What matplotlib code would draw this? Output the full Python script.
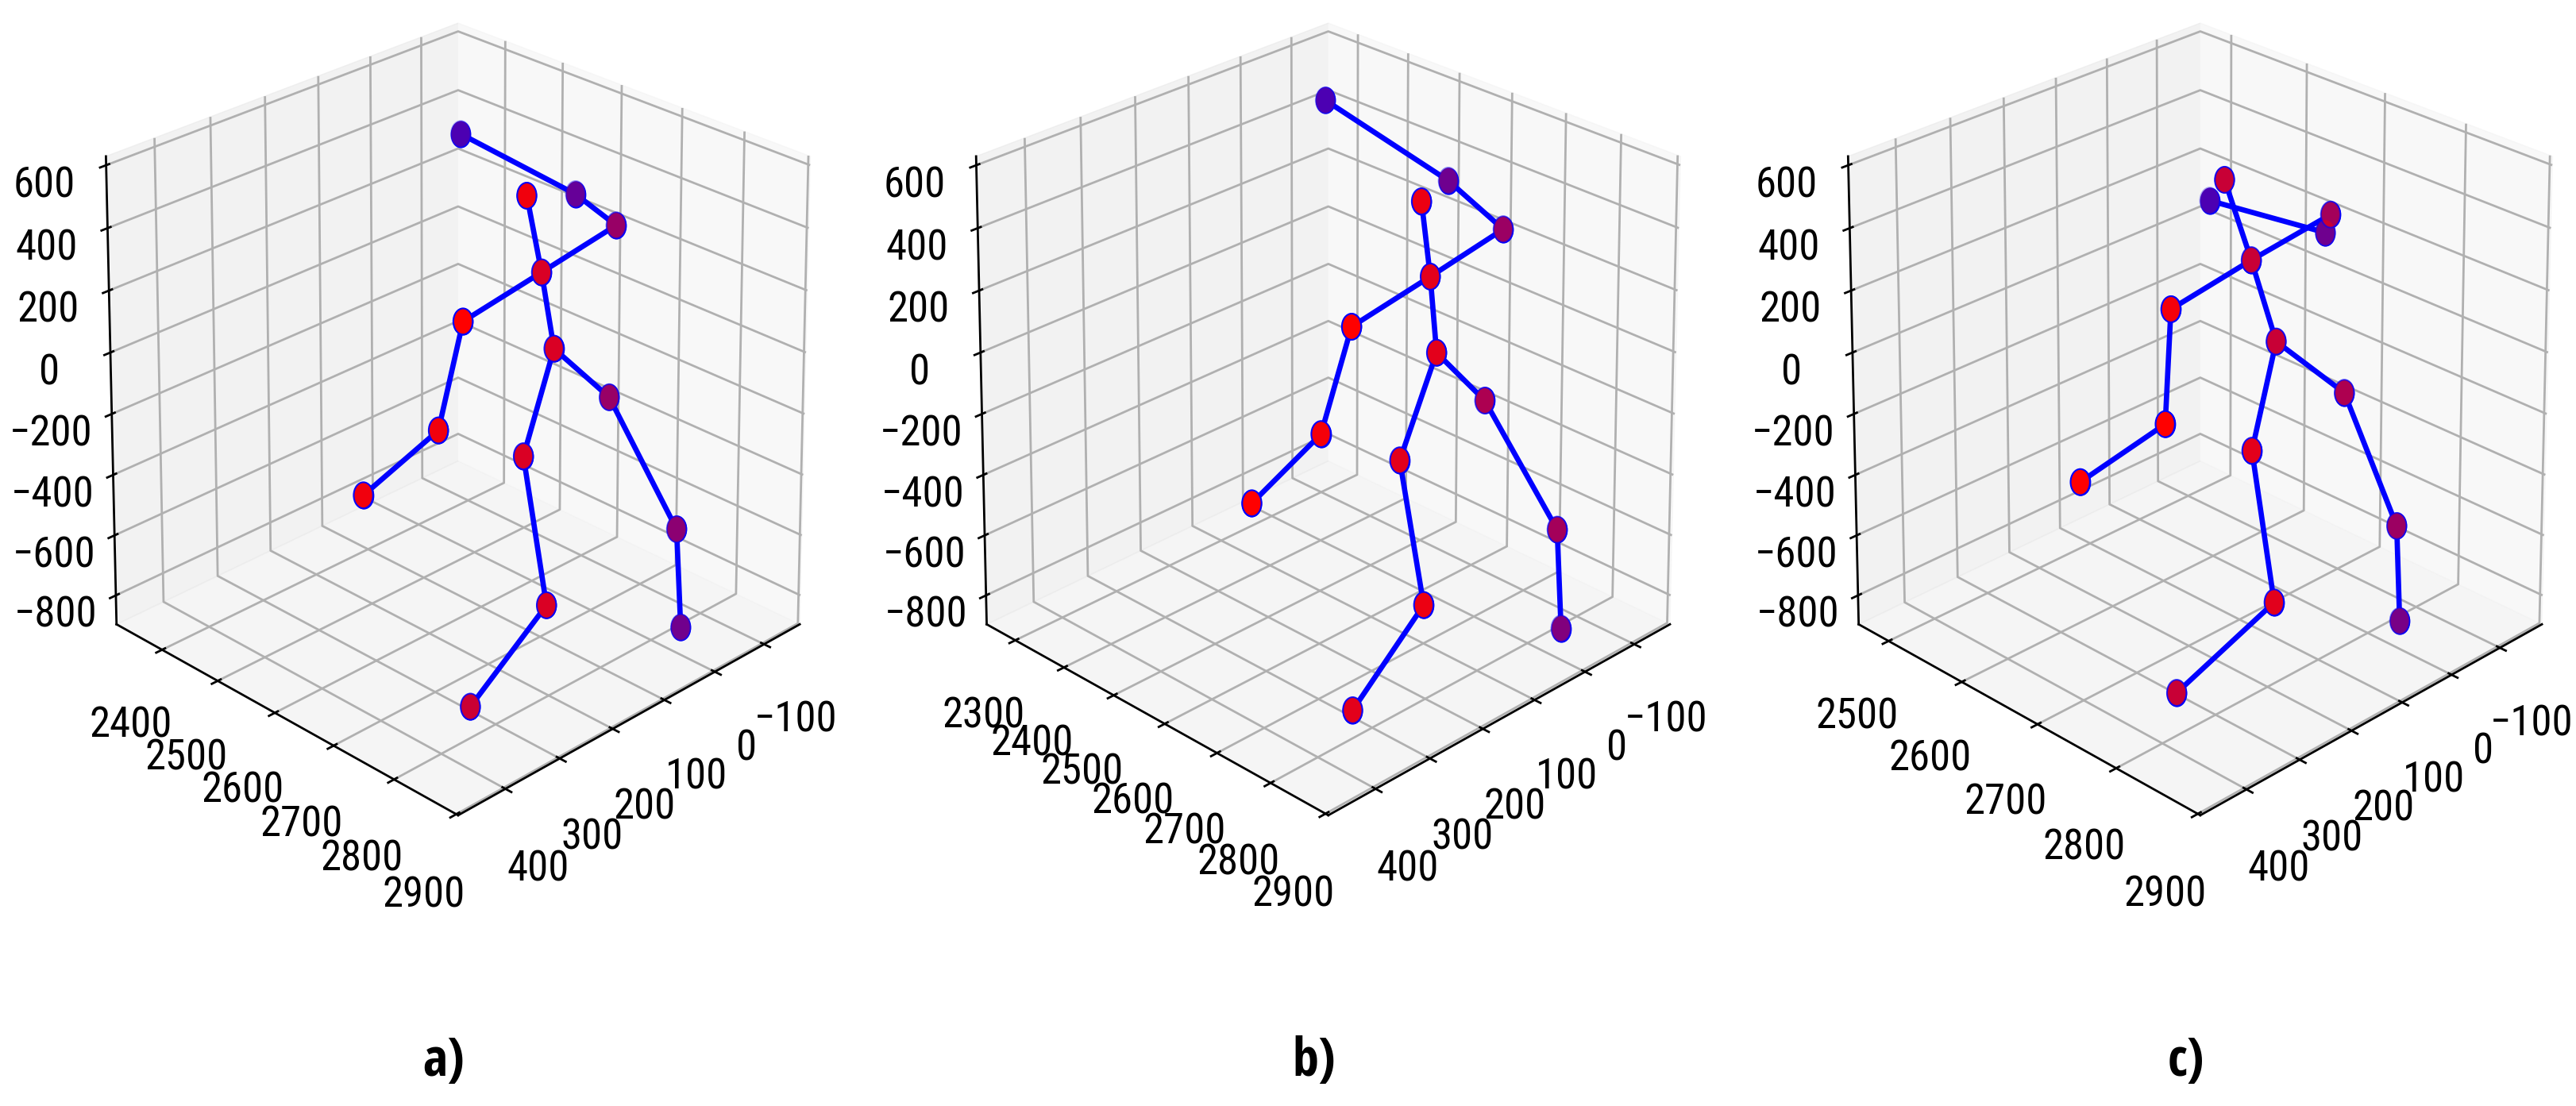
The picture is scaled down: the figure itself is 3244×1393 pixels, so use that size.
import numpy as np
import matplotlib
matplotlib.use("Agg")
import matplotlib.pyplot as plt
from matplotlib.path import Path
from matplotlib.transforms import Affine2D
from matplotlib.ticker import MultipleLocator

# Joints: 0 wrist R, 1 elbow R, 2 shoulder R, 3 head, 4 neck, 5 shoulder L,
# 6 elbow L, 7 wrist L, 8 pelvis, 9 hip R, 10 hip L, 11 knee R, 12 knee L,
# 13 ankle R, 14 ankle L
bones = [(0, 1), (1, 2), (2, 4), (3, 4), (4, 5), (5, 6), (6, 7), (4, 8), (8, 9),
         (9, 11), (11, 13), (8, 10), (10, 12), (12, 14)]

x_a = [13, -59, -45, 111, 95, 211, 249, 334, 102, 3, 156, -40, 170, -45, 252]
y_a = [2487, 2620, 2699, 2684, 2695, 2667, 2660, 2611, 2722, 2730, 2719, 2807, 2770, 2812, 2716]
z_a = [508, 365, 337, 531, 285, 192, -132, -316, 69, -159, -237, -557, -660, -883, -973]

x_b = [10, -57, -57, 85, 87, 195, 241, 329, 99, 18, 159, -28, 178, -40, 262]
y_b = [2420, 2591, 2694, 2677, 2696, 2656, 2645, 2604, 2720, 2733, 2711, 2826, 2775, 2825, 2726]
z_b = [607, 415, 330, 509, 285, 177, -138, -321, 69, -139, -236, -523, -634, -862, -945]

x_c = [12, -61, -21, 105, 99, 226, 267, 362, 95, 18, 168, -17, 183, -29, 276]
y_c = [2603, 2705, 2736, 2683, 2713, 2695, 2715, 2671, 2742, 2779, 2759, 2824, 2797, 2822, 2735]
z_c = [312, 264, 384, 527, 298, 214, -98, -261, 66, -116, -209, -525, -640, -853, -937]

panel_labels = ['a)', 'b)', 'c)']
xlims = [(-174, 485), (-174, 485), (-189, 485)]
ylims = [(2316, 2903), (2240, 2905), (2458, 2903)]
zlims = [(-897, 628), (-897, 628), (-897, 628)]

plt.rcParams['font.family'] = ['Roboto Condensed', 'DejaVu Sans']
plt.rcParams['font.stretch'] = 'condensed'
plt.rcParams['grid.linewidth'] = 2.0
plt.rcParams['axes.linewidth'] = 2.0
plt.rcParams['xtick.major.width'] = 2.0
plt.rcParams['ytick.major.width'] = 2.0


def keep_box(ax):
    # let the 3d box fill a tall rectangle instead of a square
    def apply_aspect(position=None):
        if position is None:
            position = ax.get_position(original=True)
        ax._set_position(position, 'active')
    ax.apply_aspect = apply_aspect


# tall ellipse as marker (the circles look stretched in the reference)
ellipse = Path.unit_circle().transformed(Affine2D().scale(1 / 1.35, 1))

fig = plt.figure(figsize=(32.44, 13.93), dpi=100)
lefts = [0.0259, 0.3637, 0.7022]
data = [(x_a, y_a, z_a), (x_b, y_b, z_b), (x_c, y_c, z_c)]

for i, (xs, ys, zs) in enumerate(data):
    ax = fig.add_axes([lefts[i], 0.1649, 0.2959, 0.9327], projection='3d')
    keep_box(ax)
    ax.computed_zorder = False
    for a, b in bones:
        ax.plot([xs[a], xs[b]], [ys[a], ys[b]], [zs[a], zs[b]],
                color='blue', linewidth=4.8, zorder=1)
    ax.scatter(xs, ys, zs, s=560, marker=ellipse, c='blue', edgecolors='blue',
               depthshade=False, zorder=2)
    ax.scatter(xs, ys, zs, s=560, marker=ellipse, c='red', edgecolors='blue',
               linewidths=1.5, zorder=3)
    ax.set_xlim(xlims[i])
    ax.set_ylim(ylims[i])
    ax.set_zlim(zlims[i])
    ax.xaxis.set_major_locator(MultipleLocator(100))
    ax.yaxis.set_major_locator(MultipleLocator(100))
    ax.zaxis.set_major_locator(MultipleLocator(200))
    for axis in ('x', 'y', 'z'):
        ax.tick_params(axis=axis, labelsize=38, pad=29)
    ax.view_init(elev=20, azim=45)
    fig.text(lefts[i] + 0.2959 / 2 - 0.0015, 0.04, panel_labels[i], fontsize=48,
             family=['Open Sans Condensed', 'DejaVu Sans'], fontweight='bold',
             ha='center', va='center')

fig.savefig("out.png", dpi=100)
